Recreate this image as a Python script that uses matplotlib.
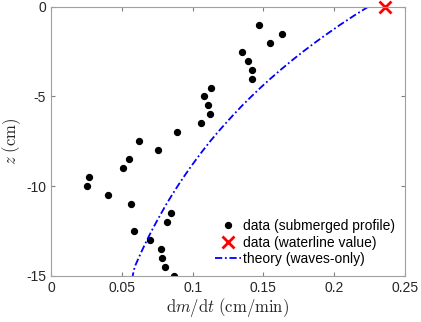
import matplotlib
matplotlib.use("Agg")
import matplotlib.pyplot as plt

# submerged profile (dm/dt in cm/min, depth z in cm)
dmdt_sub = [0.1467, 0.163, 0.155, 0.135, 0.139, 0.142, 0.142, 0.113, 0.108, 0.111,
            0.112, 0.106, 0.0888, 0.0621, 0.0756, 0.0549, 0.0506, 0.0271, 0.0252, 0.0403,
            0.0563, 0.0847, 0.0822, 0.0586, 0.0697, 0.0777, 0.0784, 0.0803, 0.0871]
z_sub = [-1.0, -1.5, -2.0, -2.5, -3.0, -3.5, -4.0, -4.5, -5.0, -5.5,
         -6.0, -6.5, -7.0, -7.5, -8.0, -8.5, -9.0, -9.5, -10.0, -10.5,
         -11.0, -11.5, -12.0, -12.5, -13.0, -13.5, -14.0, -14.5, -15.0]

# waterline value
dmdt_wl = [0.2356]
z_wl = [0.0]

# theory curve
z_th = [0, -0.5, -1.0, -1.5, -2.0, -2.5, -3.0, -3.5, -4.0, -4.5, -5.0, -5.5,
        -6.0, -6.5, -7.0, -7.5, -8.0, -8.5, -9.0, -9.5, -10.0, -10.5, -11.0,
        -11.5, -12.0, -12.5, -13.0, -13.5, -14.0, -14.5, -15.0]
dmdt_th = [0.2240, 0.2139, 0.2043, 0.1952, 0.1864, 0.1780, 0.1700, 0.1624, 0.1551,
           0.1481, 0.1415, 0.1351, 0.1291, 0.1233, 0.1177, 0.1124, 0.1074, 0.1026,
           0.0980, 0.0936, 0.0894, 0.0854, 0.0815, 0.0779, 0.0744, 0.0710, 0.0678,
           0.0648, 0.0619, 0.0591, 0.0577]

plt.rcParams['font.family'] = ['Liberation Sans', 'DejaVu Sans']
plt.rcParams['mathtext.fontset'] = 'cm'

fig = plt.figure(figsize=(4.21, 3.22), dpi=100)
ax = fig.add_axes([0.121, 0.143, 0.841, 0.836])

ax.plot(dmdt_sub, z_sub, 'k.', markersize=8.5, label='data (submerged profile)')
ax.plot(dmdt_wl, z_wl, 'rx', markersize=8, mew=2, label='data (waterline value)', clip_on=False)
ax.plot(dmdt_th, z_th, color='#0000ff', lw=1.3, dashes=(4, 1.5, 1, 1.5),
        label='theory (waves-only)')

ax.set_xlim(0, 0.25)
ax.set_ylim(-15, 0)
ax.set_xticks([0, 0.05, 0.1, 0.15, 0.2, 0.25])
ax.set_xticklabels(['0', '0.05', '0.1', '0.15', '0.2', '0.25'])
ax.set_yticks([-15, -10, -5, 0])
ax.set_yticklabels(['-15', '-10', '-5', '0'])
ax.tick_params(direction='in', top=True, right=True, length=3, color='#808080',
               labelsize=10, labelcolor='#262626')
for s in ax.spines.values():
    s.set_color('#a0a0a0')

ax.set_xlabel(r'$\mathrm{d}m/\mathrm{d}t\ \mathrm{(cm/min)}$', fontsize=12, color='#262626', labelpad=1)
ax.set_ylabel(r'$z\ \mathrm{(cm)}$', fontsize=12, color='#262626', labelpad=2)

ax.legend(loc='lower right', frameon=False, fontsize=10, handlelength=1.9,
          handletextpad=0.15, labelspacing=0.18, borderaxespad=0.3, bbox_to_anchor=(1.0, 0.0))

fig.savefig('out.png', dpi=100)
